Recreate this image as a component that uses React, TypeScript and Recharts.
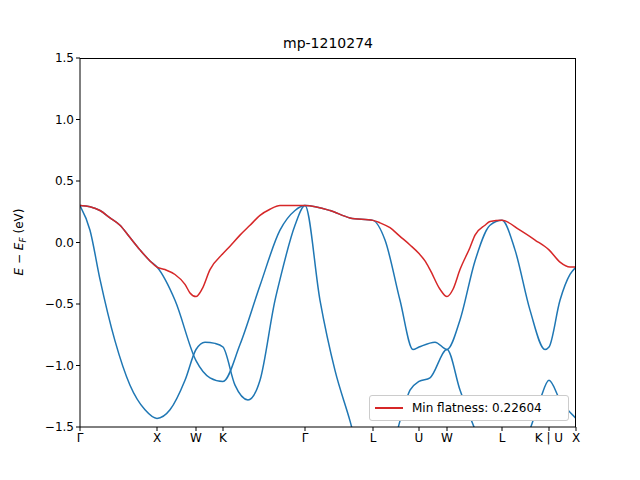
import React from 'react';
import { LineChart, Line, XAxis, YAxis } from 'recharts';

// k-path positions (arbitrary units along the path) and labels
const kTicks = [0, 77, 116, 143, 225, 293, 339, 367, 422, 469, 496];
const kLabels = ['Γ', 'X', 'W', 'K', 'Γ', 'L', 'U', 'W', 'L', 'K | U', 'X'];
const eTicks = [-1.5, -1.0, -0.5, 0.0, 0.5, 1.0, 1.5];

// flattest band (red)
const topK = [0, 10, 20, 30, 40, 50, 60, 70, 77, 85, 95, 105, 110, 116, 122, 130, 143, 150, 160, 170, 180, 190, 200, 225, 250, 270, 293, 300, 310, 320, 330, 339, 345, 350, 360, 367, 373, 380, 390, 395, 405, 410, 422, 440, 455, 469, 480, 490, 496];
const topE = [0.3, 0.29, 0.26, 0.2, 0.14, 0.04, -0.06, -0.15, -0.2, -0.22, -0.26, -0.34, -0.41, -0.44, -0.38, -0.22, -0.09, -0.03, 0.06, 0.14, 0.22, 0.27, 0.3, 0.3, 0.26, 0.2, 0.18, 0.16, 0.12, 0.05, -0.02, -0.09, -0.15, -0.22, -0.38, -0.44, -0.38, -0.22, -0.04, 0.06, 0.14, 0.17, 0.18, 0.1, 0.02, -0.06, -0.16, -0.2, -0.2];

// second band
const midK = [0, 10, 20, 30, 40, 50, 60, 70, 77, 95, 116, 130, 143, 160, 180, 200, 215, 225, 250, 270, 293, 305, 320, 333, 339, 355, 367, 380, 395, 410, 422, 435, 450, 465, 469, 480, 490, 496];
const midE = [0.3, 0.29, 0.26, 0.2, 0.14, 0.04, -0.06, -0.15, -0.2, -0.47, -0.96, -1.1, -1.13, -0.83, -0.35, 0.1, 0.26, 0.3, 0.26, 0.2, 0.18, 0.02, -0.47, -0.87, -0.85, -0.81, -0.87, -0.63, -0.15, 0.14, 0.18, -0.06, -0.55, -0.87, -0.85, -0.47, -0.26, -0.2];

// third band
const lowK = [0, 10, 20, 35, 50, 65, 77, 90, 105, 116, 125, 135, 143, 155, 168, 180, 195, 200, 215, 225, 240, 255, 270, 280, 293, 310, 320, 330, 339, 350, 367, 380, 395, 422, 450, 460, 469, 480, 496];
const lowE = [0.3, 0.1, -0.3, -0.8, -1.16, -1.36, -1.43, -1.36, -1.12, -0.87, -0.81, -0.82, -0.85, -1.16, -1.28, -1.12, -0.47, -0.3, 0.14, 0.3, -0.47, -1.04, -1.45, -1.75, -1.9, -1.75, -1.45, -1.2, -1.13, -1.1, -0.87, -1.2, -1.52, -2.0, -1.52, -1.28, -1.12, -1.28, -1.43];

const toPts = (k: number[], e: number[]) => k.map((x, i) => ({ k: x, e: e[i] }));
const top = toPts(topK, topE);
const mid = toPts(midK, midE);
const low = toPts(lowK, lowE);

const font = 'DejaVu Sans, sans-serif';
const tickStyle = { fontSize: 12, fill: '#000', fontFamily: font };
const fmt = (v: number) => v.toFixed(1).replace('-', '\u2212');

export default function App() {
  return (
    <div style={{ position: 'absolute', left: 0, top: 0, width: 640, height: 480, background: '#fff', fontFamily: font }}>
      <div style={{ position: 'absolute', left: 80, width: 496, top: 35, textAlign: 'center', fontSize: 14 }}>mp-1210274</div>
      <div style={{ position: 'absolute', left: 20, top: 242, transform: 'translate(-50%, -50%) rotate(-90deg)', fontSize: 12, whiteSpace: 'nowrap' }}>
        <i>E</i> − <i>E</i><sub style={{ fontSize: 9 }}><i>F</i></sub> (eV)
      </div>
      <LineChart width={640} height={480} margin={{ top: 58, right: 64, bottom: 23, left: 20 }}>
        <XAxis dataKey="k" type="number" domain={[0, 496]} ticks={kTicks} allowDataOverflow
          tickFormatter={(v: number) => kLabels[kTicks.indexOf(v)]} tick={tickStyle} tickSize={4}
          stroke="#000" height={30} interval={0} />
        <YAxis type="number" domain={[-1.5, 1.5]} ticks={eTicks} allowDataOverflow tickFormatter={fmt}
          tick={tickStyle} tickSize={4} stroke="#000" width={60} />
        <Line data={low} dataKey="e" type="monotone" stroke="#1f77b4" strokeWidth={1.5} dot={false} isAnimationActive={false} />
        <Line data={mid} dataKey="e" type="monotone" stroke="#1f77b4" strokeWidth={1.5} dot={false} isAnimationActive={false} />
        <Line data={top} dataKey="e" type="monotone" stroke="#d62728" strokeWidth={1.5} dot={false} isAnimationActive={false} />
      </LineChart>
      <div style={{ position: 'absolute', left: 80, top: 58, width: 496, height: 369, borderTop: '1px solid #000', borderRight: '1px solid #000', boxSizing: 'border-box', pointerEvents: 'none' }} />
      <div style={{ position: 'absolute', left: 369, top: 395, width: 198, height: 24, border: '1px solid #ccc', borderRadius: 3, background: '#fff', display: 'flex', alignItems: 'center', fontSize: 12 }}>
        <div style={{ width: 28, height: 2, background: '#d62728', marginLeft: 5, marginRight: 9 }} />
        Min flatness: 0.22604
      </div>
    </div>
  );
}
